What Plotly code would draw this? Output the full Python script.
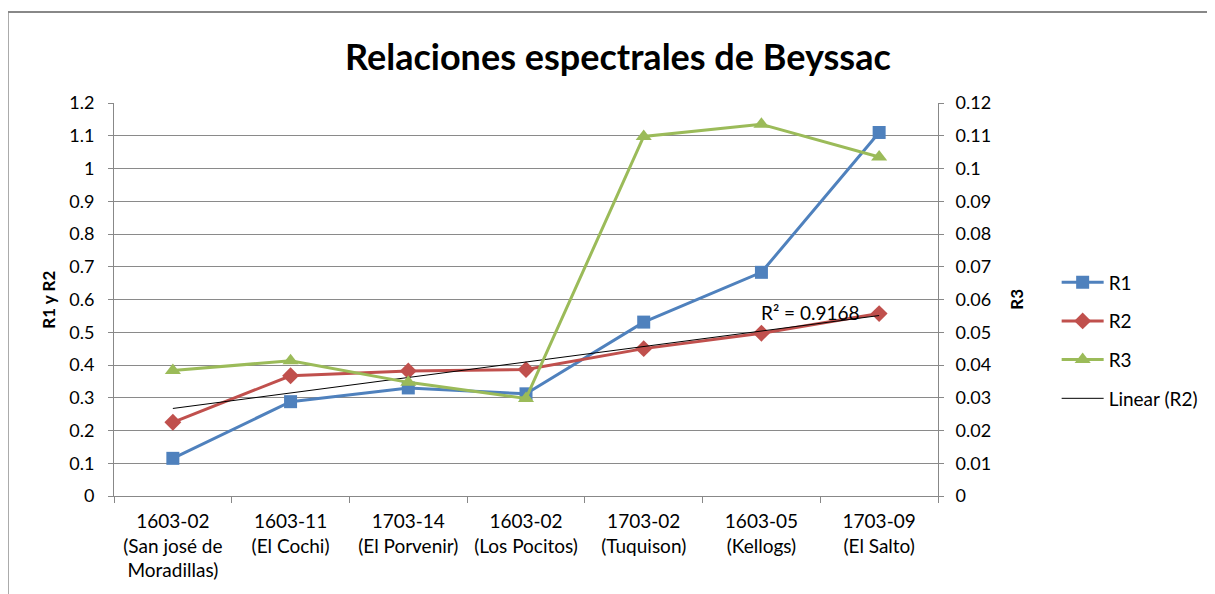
import numpy as np
import plotly.graph_objects as go

categories = [
    "1603-02<br>(San josé de<br>Moradillas)",
    "1603-11<br>(El Cochi)",
    "1703-14<br>(El Porvenir)",
    "1603-02<br>(Los Pocitos)",
    "1703-02<br>(Tuquison)",
    "1603-05<br>(Kellogs)",
    "1703-09<br>(El Salto)",
]
r1 = [0.115, 0.288, 0.330, 0.312, 0.531, 0.683, 1.110]
r2 = [0.225, 0.367, 0.382, 0.386, 0.450, 0.497, 0.557]
r3 = [0.0383, 0.0413, 0.0347, 0.0298, 0.1098, 0.1135, 0.1035]
r2_label = "R² = 0.9168"

FONT = "Lato"
blue, red, green = "#4F81BD", "#C0504D", "#9BBB59"

xi = np.arange(1, len(r2) + 1)
slope, intercept = np.polyfit(xi, r2, 1)
trend = slope * xi + intercept

fig = go.Figure()
fig.add_trace(go.Scatter(x=categories, y=r1, name="R1", mode="lines+markers",
                         line=dict(color=blue, width=3),
                         marker=dict(symbol="square", size=13, color=blue),
                         legendgroup="a"))
fig.add_trace(go.Scatter(x=categories, y=r2, name="R2", mode="lines+markers",
                         line=dict(color=red, width=3),
                         marker=dict(symbol="diamond", size=13, color=red),
                         legendgroup="b"))
fig.add_trace(go.Scatter(x=categories, y=r3, name="R3", mode="lines+markers",
                         line=dict(color=green, width=3),
                         marker=dict(symbol="triangle-up", size=14, color=green),
                         yaxis="y2", legendgroup="c"))
fig.add_trace(go.Scatter(x=categories, y=trend, name="Linear (R2)", mode="lines",
                         line=dict(color="black", width=1), legendgroup="d"))

fig.update_layout(
    width=1215, height=594,
    paper_bgcolor="white", plot_bgcolor="white",
    margin=dict(l=106, r=285, t=95, b=106),
    font=dict(family=FONT, size=18, color="black"),
    title=dict(text="<b>Relaciones espectrales de Beyssac</b>",
               font=dict(family=FONT, size=36, color="black"),
               x=0.502, xanchor="center", y=0.9175, yanchor="middle"),
    xaxis=dict(type="category", tickson="boundaries", ticks="outside", ticklen=6,
               tickcolor="#888888", showline=True, linecolor="#888888", linewidth=1,
               showgrid=False, tickfont=dict(size=19), range=[-0.5, 6.5],
               ticklabelstandoff=8),
    yaxis=dict(range=[0, 1.2], dtick=0.1, showgrid=True, gridcolor="#8a8a8a",
               gridwidth=1, showline=True, linecolor="#888888", ticks="outside",
               ticklen=5, tickcolor="#888888", zeroline=False, tickfont=dict(size=18),
               ticklabelstandoff=10),
    yaxis2=dict(range=[0, 0.12], dtick=0.01, overlaying="y", side="right",
                showgrid=False, showline=True, linecolor="#888888", ticks="outside",
                ticklen=5, tickcolor="#888888", zeroline=False, tickfont=dict(size=18),
                ticklabelstandoff=8),
    legend=dict(x=1.144, xanchor="left", y=0.396, yanchor="middle",
                font=dict(size=19), tracegroupgap=11, traceorder="grouped",
                itemwidth=42, bgcolor="rgba(0,0,0,0)"),
    showlegend=True,
)

fig.add_annotation(text="<b>R1 y R2</b>", textangle=-90, xref="paper", yref="paper",
                   x=-0.095, y=0.50, showarrow=False, font=dict(size=17))
fig.add_annotation(text="<b>R3</b>", textangle=-90, xref="paper", yref="paper",
                   x=1.11, y=0.50, showarrow=False, font=dict(size=17))
fig.add_annotation(text=r2_label, xref="x", yref="y", x=5.42, y=0.52,
                   xanchor="center", yanchor="bottom", showarrow=False,
                   font=dict(size=19))

fig.add_shape(type="line", xref="paper", yref="paper", x0=-0.129, x1=1.5,
              y0=1.2316, y1=1.2316, line=dict(color="#888888", width=2))
fig.add_shape(type="line", xref="paper", yref="paper", x0=-0.129, x1=-0.129,
              y0=1.2316, y1=-0.3, line=dict(color="#888888", width=2))

fig.write_html("out.html")
